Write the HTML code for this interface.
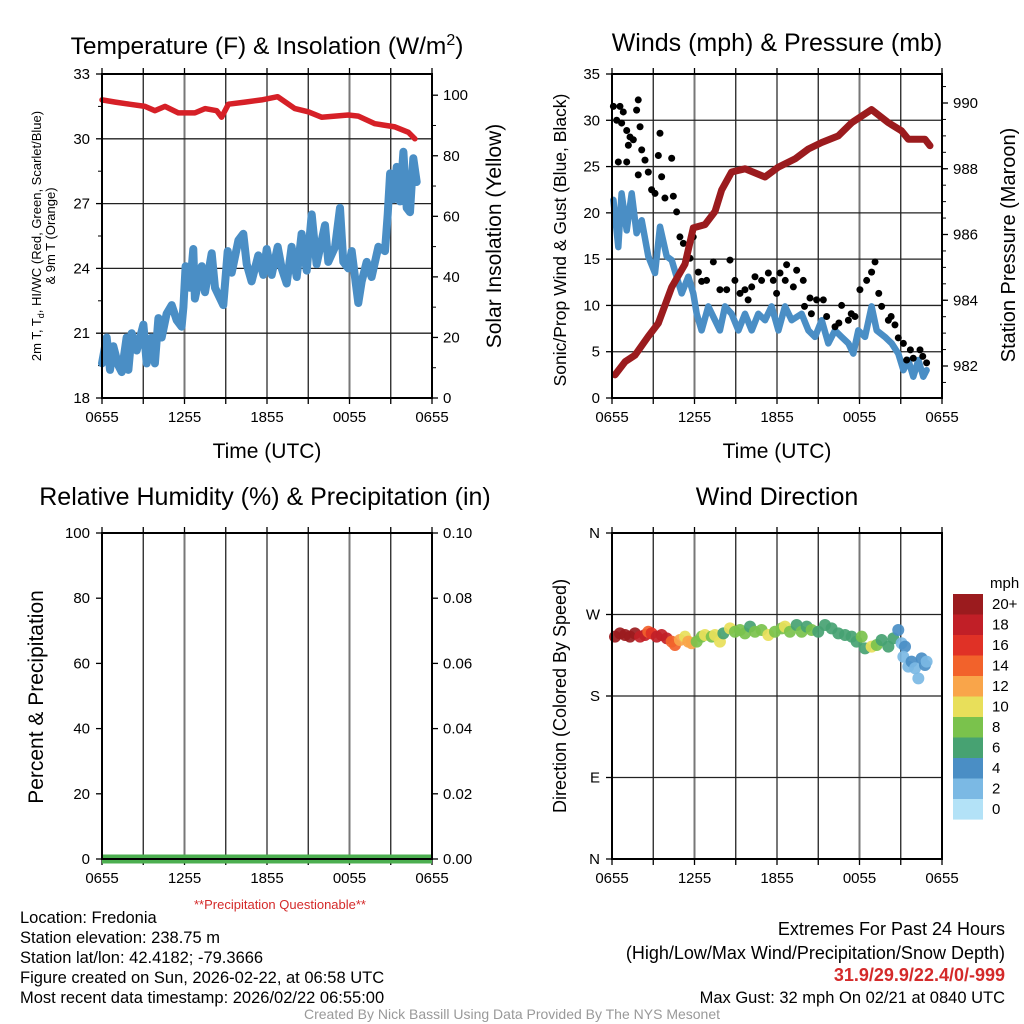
<!DOCTYPE html>
<html><head><meta charset="utf-8"><style>
body{margin:0;background:#fff;}
svg{display:block;font-family:"Liberation Sans",sans-serif;}
</style></head><body>
<svg id="c" width="1024" height="1024" viewBox="0 0 1024 1024">
<text x="267" y="54" font-size="24.5" text-anchor="middle">Temperature (F) &amp; Insolation (W/m<tspan dy="-9" font-size="16">2</tspan><tspan dy="9">)</tspan></text>
<text x="777" y="51" font-size="25" text-anchor="middle">Winds (mph) &amp; Pressure (mb)</text>
<text x="265" y="505" font-size="25" text-anchor="middle">Relative Humidity (%) &amp; Precipitation (in)</text>
<text x="777" y="505" font-size="25" text-anchor="middle">Wind Direction</text>
<text x="267" y="458" font-size="21" text-anchor="middle">Time (UTC)</text>
<text x="777" y="458" font-size="21" text-anchor="middle">Time (UTC)</text>
<text transform="translate(41,236) rotate(-90)" font-size="13" text-anchor="middle">2m T, T<tspan font-size="9" dy="3">d</tspan><tspan dy="-3">, HI/WC (Red, Green, Scarlet/Blue)</tspan></text>
<text transform="translate(55,236) rotate(-90)" font-size="13" text-anchor="middle">&amp; 9m T (Orange)</text>
<text transform="translate(501,236) rotate(-90)" font-size="21" text-anchor="middle">Solar Insolation (Yellow)</text>
<text transform="translate(566,240) rotate(-90)" font-size="17.5" text-anchor="middle">Sonic/Prop Wind &amp; Gust (Blue, Black)</text>
<text transform="translate(1015,245) rotate(-90)" font-size="20" text-anchor="middle">Station Pressure (Maroon)</text>
<text transform="translate(43,697) rotate(-90)" font-size="21" text-anchor="middle">Percent &amp; Precipitation</text>
<text transform="translate(566,696) rotate(-90)" font-size="18" text-anchor="middle">Direction (Colored By Speed)</text>
<text x="280" y="909" font-size="13" fill="#d42a2a" text-anchor="middle">**Precipitation Questionable**</text>
<g font-size="16.5">
<text x="20" y="923">Location: Fredonia</text>
<text x="20" y="943">Station elevation: 238.75 m</text>
<text x="20" y="963">Station lat/lon: 42.4182; -79.3666</text>
<text x="20" y="983">Figure created on Sun, 2026-02-22, at 06:58 UTC</text>
<text x="20" y="1003">Most recent data timestamp: 2026/02/22 06:55:00</text>
</g>
<g font-size="18" text-anchor="end">
<text x="1005" y="935">Extremes For Past 24 Hours</text>
<text x="1005" y="959">(High/Low/Max Wind/Precipitation/Snow Depth)</text>
<text x="1005" y="981" fill="#d42a2a" font-weight="bold">31.9/29.9/22.4/0/-999</text>
<text x="1005" y="1003" font-size="16.5">Max Gust: 32 mph On 02/21 at 0840 UTC</text>
</g>
<text x="512" y="1019" font-size="14" fill="#999" text-anchor="middle">Created By Nick Bassill Using Data Provided By The NYS Mesonet</text>
</svg>
<script>
const xTickLabels=["0655","1255","1855","0055","0655"];
const tempHours=[0,0.97,1.99,3.13,3.85,4.58,5.55,6.76,7.49,8.34,8.7,9.19,10.4,11.61,12.77,14.03,15.0,15.97,17.91,18.64,19.85,21.31,22.28,22.76];
const tempValues=[31.8,31.7,31.6,31.5,31.3,31.5,31.2,31.2,31.4,31.3,31.0,31.6,31.7,31.8,31.95,31.4,31.25,31.0,31.1,31.05,30.7,30.55,30.3,30.0];
const dewHours=[0,0.34,0.58,0.82,1.19,1.43,1.79,1.92,2.16,2.52,3.01,3.25,3.61,3.85,4.1,4.34,4.7,5.07,5.43,5.79,5.92,6.08,6.4,6.64,6.76,7.25,7.49,7.98,8.22,8.82,9.14,9.43,9.92,10.28,10.52,10.88,11.37,11.73,11.98,12.34,12.78,13.07,13.43,13.79,14.16,14.52,14.89,15.25,15.61,16.22,16.46,16.95,17.31,17.55,17.92,18.16,18.64,18.89,19.25,19.61,20.1,20.58,20.78,20.95,21.19,21.43,21.67,21.92,22.16,22.4,22.64,22.89];
const dewValues=[19.6,20.8,19.3,20.4,19.5,19.2,20.8,19.3,21,20.2,21.4,19.6,20.8,19.6,21.7,20.8,21.9,22.3,21.6,21.3,22.2,24.1,23.1,24.9,22.6,24.1,22.9,24.7,23.1,22.3,24.8,23.8,25.3,25.6,24.2,23.4,24.6,23.7,24.9,23.7,25.0,24.0,23.3,25.0,23.6,25.6,23.9,26.5,24.2,26.0,24.3,25.0,26.8,24.3,24.0,24.8,22.4,23.4,24.3,23.6,25.0,24.8,26.5,28.4,27.2,28.7,27.1,29.4,26.8,26.6,29.1,28.0];
const presHours=[0.22,0.95,1.67,2.64,3.37,4.34,5.31,5.91,6.76,7.49,7.97,8.7,9.67,11.13,12.1,13.31,14.28,15.25,16.46,17.43,18.88,20.1,21.06,21.55,22.76,23.13];
const presValues=[981.73,982.13,982.33,982.9,983.3,984.4,985.1,986.2,986.3,986.7,987.35,987.9,988.0,987.75,988.05,988.3,988.6,988.8,989.0,989.4,989.8,989.4,989.15,988.9,988.9,988.7];
const windHours=[0.1,0.46,0.7,1.07,1.43,1.79,2.16,2.64,3.13,3.49,3.98,4.34,4.7,5.07,5.55,5.91,6.16,6.52,7.0,7.49,7.85,8.22,8.7,9.19,9.67,10.16,10.64,11.13,11.61,12.1,12.58,13.07,13.79,14.28,14.76,15.25,15.73,16.22,16.7,17.19,17.55,17.91,18.4,18.88,19.25,19.85,20.34,20.82,21.19,21.55,21.91,22.28,22.64,22.88];
const windValues=[21.4,16.3,22.1,18.1,22.1,17.8,19.2,15.3,13.5,18.5,15.3,14.9,13.1,11.3,13.1,11.3,9.1,7.3,9.9,8.4,7.3,9.9,9.1,7.3,9.1,7.3,9.1,8.4,9.9,7.3,9.9,8.4,9.1,7.3,6.6,8.4,5.9,7.3,6.6,5.9,4.8,7.3,6.6,9.9,7.3,6.6,5.9,4.8,3.0,4.1,2.3,4.1,2.3,3.0];
const gustHours=[0.1,0.34,0.58,0.7,0.82,1.07,1.19,1.31,1.55,1.79,1.91,2.04,0.46,1.07,1.91,2.16,2.4,2.64,2.88,3.13,3.37,3.49,3.61,3.85,4.34,4.46,4.7,4.94,5.19,5.67,5.91,6.28,6.52,6.88,7.37,7.85,8.34,8.58,8.94,9.31,9.67,10.16,10.4,10.88,11.37,11.73,11.97,12.22,12.7,13.19,13.43,13.91,14.4,14.88,15.37,15.61,16.22,16.7,17.19,17.67,18.03,18.52,18.88,19.13,19.61,20.1,20.58,20.82,21.19,21.43,21.91,22.4,22.88,14.0,14.5,16.5,17.4,19.4,20.3,21.7,22.6,9.9,12.6];
const gustValues=[31.5,30.0,31.5,29.7,30.9,28.9,27.3,28.2,27.9,31.1,32.2,29.3,25.5,25.5,24.1,26.8,25.7,24.4,22.5,22.1,26.2,28.6,23.9,21.6,25.9,21.8,20.1,17.4,16.7,15.1,17.4,13.6,12.6,12.7,14.7,11.7,11.7,14.9,12.7,11.3,11.7,12.0,13.1,12.7,13.5,12.7,11.3,13.5,14.4,12.0,13.8,12.7,10.8,10.6,10.6,8.8,7.7,10.0,8.4,8.8,11.7,12.7,13.6,14.7,9.9,8.4,7.9,6.5,5.9,4.1,4.3,5.2,3.8,9.9,9.1,8.1,9.1,11.3,8.8,5.2,4.5,10.6,12.7];
const dirHours=[0.22,0.58,0.95,1.31,1.67,2.04,2.4,2.64,2.88,3.25,3.61,3.98,4.34,4.58,4.94,5.31,5.55,5.79,6.16,6.52,6.76,7.25,7.49,7.85,8.1,8.58,8.94,9.31,9.67,10.04,10.4,10.88,11.37,11.85,12.34,12.58,12.94,13.43,13.79,14.16,14.52,15.0,15.49,15.97,16.46,16.95,17.43,17.79,18.16,18.4,18.88,19.25,19.61,20.1,20.46,20.82,21.06,21.31,21.19,21.55,21.79,22.04,22.28,22.52,22.76,22.88];
const dirValues=[245.5,249.2,247.4,245.5,249.2,245.5,247.4,251,249.2,245.5,247.4,243.7,240,236.3,241.8,245.5,240,238.2,240,245.5,247.4,245.5,247.4,240,249.2,254.7,251,252.9,249.2,256.6,251,252.9,247.4,251,254.7,256.6,251,258.4,251,256.6,252.9,251,258.4,254.7,249.2,247.4,245.5,240,245.5,232.6,234.5,236.3,241.8,234.5,243.7,252.9,238.2,234.5,223.4,212.4,217.9,210.6,199.5,221.6,214.2,217.9];
const dirSpeeds=[21,21,21,20,20,19,18,15,17,19,18,18,15,14,13,11,13,12,9,8,10,8,10,10,7,10,8,8,8,7,8,8,10,8,8,10,8,7,8,7,8,7,6,6,6,7,6,6,8,7,10,8,7,6,6,4,3,4,2,2,4,3,2,4,4,2];
const speedLabels=["20+","18","16","14","12","10","8","6","4","2","0"];
const speedColors=["#9b1b1e","#c11f27","#e03126","#f2622b","#f9a54a","#e8df5a","#7ac24c","#47a272","#4a8ec5","#7bb9e4","#b3e2f7"];
const tempTicks=[18,21,24,27,30,33];
const insolTicks=[0,20,40,60,80,100];
const windTicks=[0,5,10,15,20,25,30,35];
const presTicks=[982,984,986,988,990];
const rhTicks=[0,20,40,60,80,100];
const precipTicks=["0.00","0.02","0.04","0.06","0.08","0.10"];
const dirTicks=["N","E","S","W","N"];

const svg=document.getElementById('c');
const NS='http://www.w3.org/2000/svg';
function mk(tag,attrs,parent){const e=document.createElementNS(NS,tag);for(const k in attrs)e.setAttribute(k,attrs[k]);(parent||svg).appendChild(e);return e;}
function lin(d0,d1,r0,r1){return v=>r0+(v-d0)*(r1-r0)/(d1-d0);}
const FS=15;
function panel(x0,y0,x1,y1,name){
  const g=mk('g',{});
  
  
  const xs=lin(0,24,x0,x1);
  for(let i=1;i<8;i++){const x=xs(i*3);const l=mk('line',{x1:x,x2:x,y1:y0,y2:y1,stroke:i%2?'#222':'#777','stroke-width':i%2?1.3:2},g);}
  for(let i=0;i<=8;i++){const x=xs(i*3);mk('line',{x1:x,x2:x,y1:y1,y2:y1+6,stroke:'#000','stroke-width':1.3},g);mk('line',{x1:x,x2:x,y1:y0,y2:y0-6,stroke:'#000','stroke-width':1.3},g);}
  xTickLabels.forEach((t,i)=>{const tx=mk('text',{x:xs(i*6),y:y1+24,'font-size':FS,'text-anchor':'middle'},g);tx.textContent=t;});
  return {g,xs};
}
function hgrid(g,x0,x1,ys,vals,labels){
  vals.forEach((v,i)=>{const y=ys(v);
    const l=mk('line',{x1:x0,x2:x1,y1:y,y2:y,stroke:'#222','stroke-width':1.3},g);
    mk('line',{x1:x0-6,x2:x0,y1:y,y2:y,stroke:'#000','stroke-width':1.3},g);
    const t=mk('text',{x:x0-12,y:y+5,'font-size':FS,'text-anchor':'end'},g);t.textContent=labels[i];});
}
function rightAxis(g,x1,ys,vals,labels){
  vals.forEach((v,i)=>{const y=ys(v);mk('line',{x1:x1,x2:x1+6,y1:y,y2:y,stroke:'#000','stroke-width':1.3},g);
    const t=mk('text',{x:x1+11,y:y+5,'font-size':FS},g);t.textContent=labels[i];});
}
function border(g,x0,y0,x1,y1){const r=mk('rect',{x:x0,y:y0,width:x1-x0,height:y1-y0,fill:'none',stroke:'#000','stroke-width':2},g);}
function line(g,xs,ys,hx,vy,color,w,name){const d=hx.map((h,i)=>(i?'L':'M')+xs(h).toFixed(1)+' '+ys(vy[i]).toFixed(1)).join('');const p=mk('path',{d:d,fill:'none',stroke:color,'stroke-width':w,'stroke-linejoin':'round','stroke-linecap':'round'},g);return p;}

(function(){
  const X0=102,Y0=74,X1=432,Y1=398;const {g,xs}=panel(X0,Y0,X1,Y1,'temperature-panel');
  const ys=lin(18,33,Y1,Y0);const yi=lin(0,107,Y1,Y0);
  hgrid(g,X0,X1,ys,tempTicks,tempTicks.map(String));
  for(let v=19.5;v<33;v+=3)mk('line',{x1:X0-4,x2:X0,y1:ys(v),y2:ys(v),stroke:'#000'},g);
  rightAxis(g,X1,yi,insolTicks,insolTicks.map(String));
  for(let v=10;v<107;v+=20)mk('line',{x1:X1,x2:X1+4,y1:yi(v),y2:yi(v),stroke:'#000'},g);
  line(g,xs,ys,dewHours,dewValues,'#4a8ec5',8,'dewpoint-line');
  line(g,xs,ys,tempHours,tempValues,'#d62027',5.5,'temperature-line');
  border(g,X0,Y0,X1,Y1);
})();
(function(){
  const X0=612,Y0=74,X1=942,Y1=398;const {g,xs}=panel(X0,Y0,X1,Y1,'wind-panel');
  const ys=lin(0,35,Y1,Y0);const yp=lin(982,990,366,103);
  hgrid(g,X0,X1,ys,windTicks,windTicks.map(String));
  rightAxis(g,X1,yp,presTicks,presTicks.map(String));
  for(let v=981.5;v<990.9;v+=0.5)mk('line',{x1:X1,x2:X1+4,y1:yp(v),y2:yp(v),stroke:'#000'},g);
  line(g,xs,ys,windHours,windValues,'#4a8ec5',6.5,'wind-speed-line');
  gustHours.forEach((h,i)=>{const c=mk('circle',{cx:xs(h),cy:ys(gustValues[i]),r:3.5,fill:'#000'},g);});
  line(g,xs,yp,presHours,presValues,'#9b1b1e',7,'pressure-line');
  border(g,X0,Y0,X1,Y1);
})();
(function(){
  const X0=102,Y0=533,X1=432,Y1=859;const {g,xs}=panel(X0,Y0,X1,Y1,'rh-panel');
  const ys=lin(0,100,Y1,Y0);
  rhTicks.forEach(v=>{mk('line',{x1:X0-6,x2:X0,y1:ys(v),y2:ys(v),stroke:'#000','stroke-width':1.3},g);const t=mk('text',{x:X0-12,y:ys(v)+5,'font-size':FS,'text-anchor':'end'},g);t.textContent=v;});
  rightAxis(g,X1,ys,rhTicks,precipTicks);
  const p=mk('line',{x1:X0,x2:X1,y1:Y1,y2:Y1,stroke:'#4caf50','stroke-width':9},g);
  border(g,X0,Y0,X1,Y1);
})();
(function(){
  const X0=612,Y0=533,X1=942,Y1=859;const {g,xs}=panel(X0,Y0,X1,Y1,'direction-panel');
  const ys=lin(0,360,Y1,Y0);
  hgrid(g,X0,X1,ys,[0,90,180,270,360],dirTicks);
  dirHours.forEach((h,i)=>{const s=dirSpeeds[i];const idx=s>=20?0:Math.max(0,Math.min(10,10-Math.floor(s/2)));
    const c=mk('circle',{cx:xs(h),cy:ys(dirValues[i]),r:6,fill:speedColors[idx],'fill-opacity':0.92},g);});
  border(g,X0,Y0,X1,Y1);
  const cb=mk('g',{});
  const t=mk('text',{x:990,y:588,'font-size':15},cb);t.textContent='mph';
  speedColors.forEach((c,i)=>{mk('rect',{x:953,y:594+i*20.5,width:30,height:20.6,fill:c},cb);const l=mk('text',{x:992,y:609+i*20.5,'font-size':15},cb);l.textContent=speedLabels[i];});
})();
</script>
</body></html>
